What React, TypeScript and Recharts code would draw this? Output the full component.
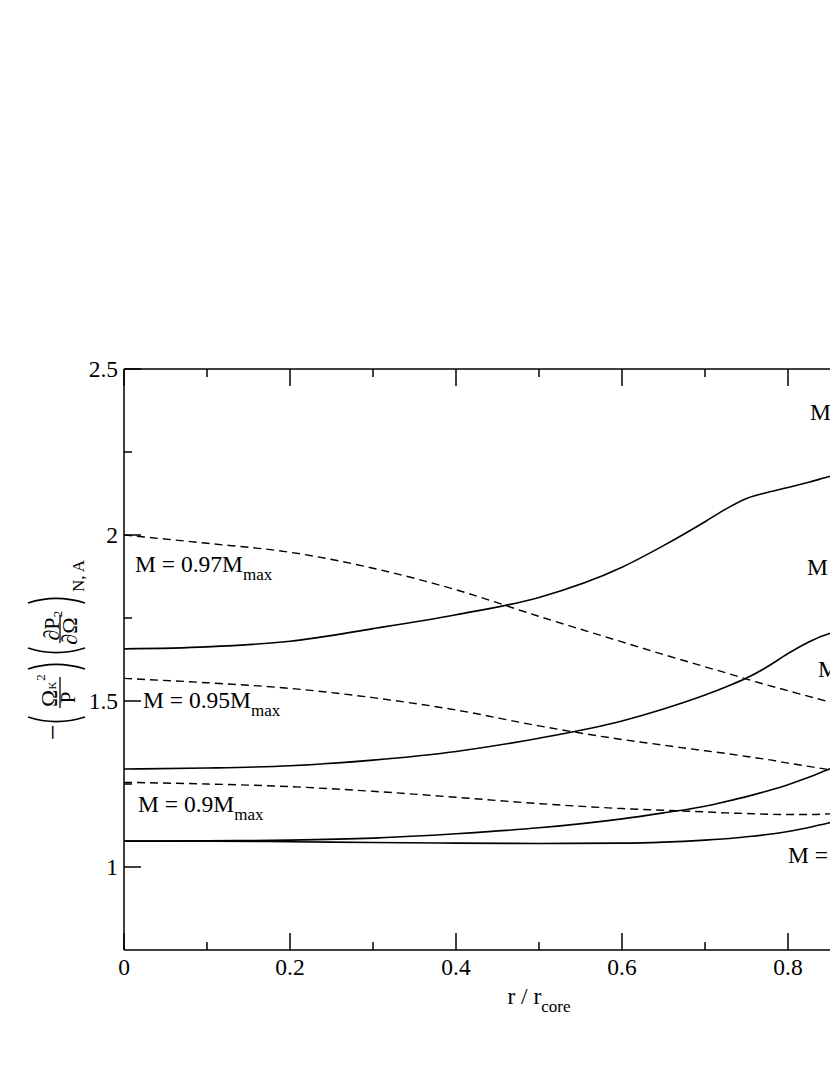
import { LineChart, Line, XAxis, YAxis, ReferenceDot } from "recharts"

// radius r / r_core
const rValues = [0, 0.1, 0.2, 0.3, 0.4, 0.5, 0.6, 0.65, 0.7, 0.725, 0.75, 0.775, 0.8, 0.825, 0.85, 0.9, 0.95, 1.0]

// solid curves
const solidA = [1.657, 1.663, 1.68, 1.718, 1.76, 1.812, 1.903, 1.968, 2.04, 2.078, 2.11, 2.128, 2.143, 2.159, 2.176, 2.205, 2.235, 2.265]
const solidB = [1.295, 1.298, 1.305, 1.322, 1.348, 1.388, 1.44, 1.476, 1.518, 1.542, 1.569, 1.603, 1.643, 1.678, 1.703, 1.722, 1.738, 1.754]
const solidC = [1.078, 1.079, 1.081, 1.087, 1.1, 1.118, 1.145, 1.163, 1.183, 1.197, 1.212, 1.229, 1.248, 1.27, 1.295, 1.34, 1.39, 1.45]
const solidD = [1.078, 1.078, 1.076, 1.074, 1.072, 1.071, 1.072, 1.075, 1.081, 1.085, 1.091, 1.098, 1.107, 1.119, 1.133, 1.165, 1.2, 1.24]

// dashed curves
const dashed97 = [2.0, 1.975, 1.948, 1.9, 1.835, 1.755, 1.678, 1.64, 1.603, 1.585, 1.566, 1.548, 1.531, 1.514, 1.497, 1.465, 1.435, 1.405]
const dashed95 = [1.568, 1.555, 1.538, 1.51, 1.473, 1.425, 1.384, 1.367, 1.35, 1.342, 1.333, 1.324, 1.313, 1.303, 1.293, 1.278, 1.265, 1.255]
const dashed90 = [1.255, 1.25, 1.242, 1.228, 1.21, 1.191, 1.176, 1.171, 1.166, 1.163, 1.161, 1.159, 1.158, 1.158, 1.16, 1.165, 1.172, 1.18]

const xTicks = [0, 0.1, 0.2, 0.3, 0.4, 0.5, 0.6, 0.7, 0.8, 0.9, 1.0]
const yTicks = [1, 1.25, 1.5, 1.75, 2, 2.25, 2.5]

// curve labels (the right-hand ones run off the page, only their start shows)
const annotations = [
  { x: 0.0133, y: 1.889, main: "M = 0.97M", sub: "max" },
  { x: 0.0229, y: 1.479, main: "M = 0.95M", sub: "max" },
  { x: 0.0169, y: 1.166, main: "M = 0.9M", sub: "max" },
  { x: 0.8265, y: 2.346, main: "M", sub: "" },
  { x: 0.823, y: 1.88, main: "M", sub: "" },
  { x: 0.836, y: 1.572, main: "M", sub: "" },
  { x: 0.8, y: 1.012, main: "M =", sub: "" },
]

const data = rValues.map((r, i) => ({
  r,
  a: solidA[i],
  b: solidB[i],
  c: solidC[i],
  d: solidD[i],
  d97: dashed97[i],
  d95: dashed95[i],
  d90: dashed90[i],
}))

const FONT = "'Liberation Serif', 'Times New Roman', serif"
const FS = 23.5

const isMajorX = (v: number) => Math.round(v * 10) % 2 === 0
const isMajorY = (v: number) => Math.round(v * 4) % 2 === 0

const BottomTick = (props: any) => {
  const { x, y, payload } = props
  const major = isMajorX(payload.value)
  return (
    <g>
      <line x1={x} y1={y} x2={x} y2={y - (major ? 17 : 8)} stroke="#000" strokeWidth={1.5} />
      {major && (
        <text x={x} y={y + 25} textAnchor="middle" fontSize={FS} fontFamily={FONT} fill="#000">
          {String(payload.value)}
        </text>
      )}
    </g>
  )
}

const TopTick = (props: any) => {
  const { x, y, payload } = props
  const major = isMajorX(payload.value)
  return <line x1={x} y1={y} x2={x} y2={y + (major ? 17 : 8)} stroke="#000" strokeWidth={1.5} />
}

const LeftTick = (props: any) => {
  const { x, y, payload } = props
  const major = isMajorY(payload.value)
  return (
    <g>
      <line x1={x} y1={y} x2={x + (major ? 17 : 8)} y2={y} stroke="#000" strokeWidth={1.5} />
      {major && (
        <text x={x - 6} y={y} dy="0.34em" textAnchor="end" fontSize={FS} fontFamily={FONT} fill="#000">
          {String(payload.value)}
        </text>
      )}
    </g>
  )
}

const XLabel = () => (
  <text x={539} y={1004} textAnchor="middle" fontSize={FS} fontFamily={FONT} fill="#000">
    r / r
    <tspan fontSize={17} dy={8}>core</tspan>
  </text>
)

// rotated math label: -(Ω_K^2 / P)(∂P / ∂Ω^2)_{N,A}
const YLabel = () => {
  const p = { fontFamily: FONT, fill: "#000" }
  const paren = (u: number, open: boolean) => {
    const e = open ? 4 : -4
    return (
      <path
        d={`M ${u + e} -31 Q ${u - e * 1.3} -3 ${u + e} 26`}
        fill="none"
        stroke="#000"
        strokeWidth={1.6}
      />
    )
  }
  return (
    <g transform="translate(59, 655) rotate(-90)">
      <text x={-77} y={3} textAnchor="middle" fontSize={28} {...p}>−</text>
      {paren(-66, true)}
      <text x={-43.5} y={-2} textAnchor="middle" fontSize={23} {...p}>Ω</text>
      <text x={-30.5} y={-3} textAnchor="middle" fontSize={11} {...p}>K</text>
      <text x={-22.5} y={-14} textAnchor="middle" fontSize={13} {...p}>2</text>
      <line x1={-53} y1={1} x2={-22} y2={1} stroke="#000" strokeWidth={1.3} />
      <text x={-42.5} y={16} textAnchor="middle" fontSize={21} {...p}>P</text>
      {paren(-10, false)}
      {paren(3, true)}
      <text x={26} y={0} textAnchor="middle" fontSize={22} {...p}>∂P</text>
      <line x1={12} y1={1} x2={40} y2={1} stroke="#000" strokeWidth={1.3} />
      <text x={24} y={18} textAnchor="middle" fontSize={22} {...p}>∂Ω</text>
      <text x={41} y={3} textAnchor="middle" fontSize={13} {...p}>2</text>
      {paren(56, false)}
      <text x={63} y={25} textAnchor="start" fontSize={17} {...p}>N, A</text>
    </g>
  )
}

const AnnotationLabel = (props: any) => {
  const { viewBox, main, sub } = props
  return (
    <text x={viewBox.x} y={viewBox.y} fontSize={FS} fontFamily={FONT} fill="#000">
      {main}
      {sub && <tspan fontSize={17} dy={8}>{sub}</tspan>}
    </text>
  )
}

export default function App() {
  return (
    <div style={{ position: "absolute", left: 0, top: 0, width: 830, height: 1075, overflow: "hidden", background: "#fff" }}>
      <LineChart width={1000} height={1075} data={data} margin={{ top: 359, right: 46, bottom: 65, left: 64 }}>
        <XAxis
          dataKey="r"
          type="number"
          domain={[0, 1]}
          ticks={xTicks}
          interval={0}
          height={60}
          tickSize={0}
          tickMargin={0}
          tickLine={false}
          axisLine={{ stroke: "#000", strokeWidth: 1.5 }}
          tick={<BottomTick />}
          label={<XLabel />}
          allowDataOverflow
        />
        <XAxis
          xAxisId="top"
          orientation="top"
          dataKey="r"
          type="number"
          domain={[0, 1]}
          ticks={xTicks}
          interval={0}
          height={10}
          tickSize={0}
          tickMargin={0}
          tickLine={false}
          axisLine={{ stroke: "#000", strokeWidth: 1.5 }}
          tick={<TopTick />}
        />
        <YAxis
          type="number"
          domain={[0.75, 2.5]}
          ticks={yTicks}
          interval={0}
          width={60}
          tickSize={0}
          tickMargin={0}
          tickLine={false}
          axisLine={{ stroke: "#000", strokeWidth: 1.5 }}
          tick={<LeftTick />}
          label={<YLabel />}
          allowDataOverflow
        />
        <Line dataKey="a" type="monotone" stroke="#000" strokeWidth={1.6} dot={false} activeDot={false} isAnimationActive={false} />
        <Line dataKey="b" type="monotone" stroke="#000" strokeWidth={1.6} dot={false} activeDot={false} isAnimationActive={false} />
        <Line dataKey="c" type="monotone" stroke="#000" strokeWidth={1.6} dot={false} activeDot={false} isAnimationActive={false} />
        <Line dataKey="d" type="monotone" stroke="#000" strokeWidth={1.6} dot={false} activeDot={false} isAnimationActive={false} />
        <Line dataKey="d97" type="monotone" stroke="#000" strokeWidth={1.4} strokeDasharray="8 5" dot={false} activeDot={false} isAnimationActive={false} />
        <Line dataKey="d95" type="monotone" stroke="#000" strokeWidth={1.4} strokeDasharray="8 5" dot={false} activeDot={false} isAnimationActive={false} />
        <Line dataKey="d90" type="monotone" stroke="#000" strokeWidth={1.4} strokeDasharray="8 5" dot={false} activeDot={false} isAnimationActive={false} />
        {annotations.map((a, i) => (
          <ReferenceDot
            key={i}
            x={a.x}
            y={a.y}
            r={0}
            fill="none"
            stroke="none"
            label={<AnnotationLabel main={a.main} sub={a.sub} />}
          />
        ))}
      </LineChart>
    </div>
  )
}
